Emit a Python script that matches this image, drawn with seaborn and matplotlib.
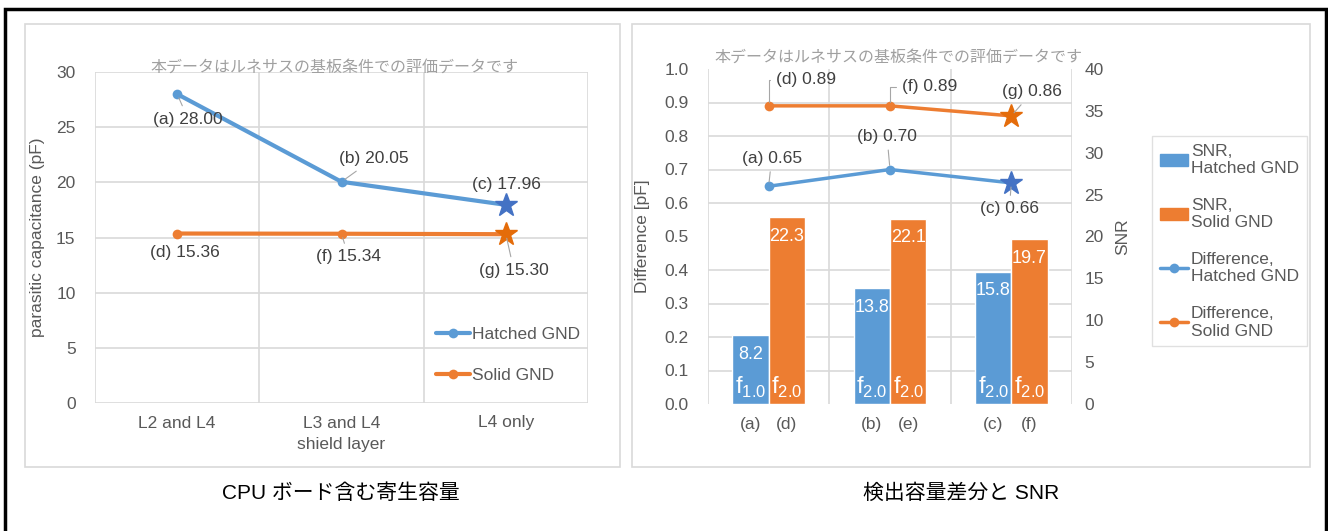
import numpy as np
import pandas as pd
import matplotlib
matplotlib.use("Agg")
import matplotlib.pyplot as plt
import seaborn as sns
from matplotlib.ticker import MultipleLocator, FixedLocator, FormatStrFormatter
from matplotlib.lines import Line2D
from matplotlib.patches import Patch, Rectangle

# ---- parasitic capacitance per shield layer ----
layers = ["L2 and L4", "L3 and L4", "L4 only"]
cap_hatched = [28.00, 20.05, 17.96]
cap_solid = [15.36, 15.34, 15.30]
cap_hatched_tags = ["(a)", "(b)", "(c)"]
cap_solid_tags = ["(d)", "(f)", "(g)"]

# ---- detected capacitance difference and SNR ----
diff_hatched = [0.65, 0.70, 0.66]
diff_solid = [0.89, 0.89, 0.86]
diff_hatched_tags = ["(a)", "(b)", "(c)"]
diff_solid_tags = ["(d)", "(f)", "(g)"]
snr_hatched = [8.2, 13.8, 15.8]
snr_solid = [22.3, 22.1, 19.7]
freq_hatched = ["1.0", "2.0", "2.0"]
freq_solid = ["2.0", "2.0", "2.0"]
bar_tags_hatched = ["(a)", "(b)", "(c)"]
bar_tags_solid = ["(d)", "(e)", "(f)"]

BLUE = "#5B9BD5"
ORANGE = "#ED7D31"
BLUE_STAR = "#4472C4"
ORANGE_STAR = "#E46C0A"
GRID = "#d9d9d9"
TICK = "#595959"
LABEL = "#404040"
MARK = "#a6a6a6"

sns.set_style("white")
plt.rcParams["font.family"] = ["Liberation Sans", "Noto Sans CJK JP", "DejaVu Sans"]
plt.rcParams["mathtext.fontset"] = "custom"
plt.rcParams["mathtext.rm"] = "Liberation Sans"
plt.rcParams["axes.unicode_minus"] = False

W, H = 1328, 531
fig = plt.figure(figsize=(W / 100, H / 100), dpi=100)


def fx(px):
    return px / W


def fy(py):
    return 1 - py / H


# outer frame and panel frames
fig.patches.append(Rectangle((fx(5), fy(545)), fx(1326) - fx(5), fy(9) - fy(545),
                             transform=fig.transFigure, fill=False, lw=2.5, ec="black"))
for x0, x1 in [(25, 620), (632, 1310)]:
    fig.patches.append(Rectangle((fx(x0), fy(467)), fx(x1) - fx(x0), fy(24) - fy(467),
                                 transform=fig.transFigure, fill=False, lw=1.2, ec=GRID))

WM = "本データはルネサスの基板条件での評価データです"


def tag(ax, x, y, text, dx, dy, leader=True, conn=None):
    props = None
    if leader:
        props = dict(arrowstyle="-", color=MARK, lw=0.8, shrinkA=2, shrinkB=3)
        if conn:
            props["connectionstyle"] = conn
    ax.annotate(text, (x, y), xytext=(dx, dy), textcoords="offset pixels",
                ha="center", va="center", fontsize=12.5, color=LABEL,
                arrowprops=props, zorder=6)


# ================= left panel =================
ax1 = fig.add_axes([fx(95), fy(403), fx(588) - fx(95), fy(72) - fy(403)])
xi = np.arange(len(layers))
sns.lineplot(x=xi, y=cap_hatched, ax=ax1, color=BLUE, lw=3, marker="o", markersize=7,
             markeredgewidth=0, zorder=3)
sns.lineplot(x=xi, y=cap_solid, ax=ax1, color=ORANGE, lw=3, marker="o", markersize=7,
             markeredgewidth=0, zorder=3)
ax1.plot(xi[-1], cap_hatched[-1], marker="*", markersize=17, color=BLUE_STAR, zorder=4)
ax1.plot(xi[-1], cap_solid[-1], marker="*", markersize=17, color=ORANGE_STAR, zorder=4)

ax1.set_xlim(-0.5, 2.5)
ax1.set_ylim(0, 30)
ax1.yaxis.set_major_locator(MultipleLocator(5))
ax1.set_xticks(xi, layers)
ax1.xaxis.set_minor_locator(FixedLocator([-0.5, 0.5, 1.5, 2.5]))
ax1.grid(True, axis="y", which="major", color=GRID, lw=1.2)
ax1.grid(True, axis="x", which="minor", color=GRID, lw=1.2)
ax1.set_axisbelow(True)
for s in ax1.spines.values():
    s.set_visible(False)
ax1.tick_params(axis="both", which="both", length=0, labelsize=12.5, labelcolor=TICK)
ax1.tick_params(axis="y", pad=14)
ax1.tick_params(axis="x", pad=9)
ax1.set_ylabel("parasitic capacitance (pF)", fontsize=12.5, color=TICK, labelpad=8)
ax1.set_xlabel("shield layer", fontsize=12.5, color=TICK, labelpad=5)

offs_h = [(11, -25, True), (32, 23, True), (1, 20, False)]
offs_s = [(8, -19, False), (7, -23, True), (8, -36, True)]
for i in range(3):
    dx, dy, ld = offs_h[i]
    tag(ax1, xi[i], cap_hatched[i], f"{cap_hatched_tags[i]} {cap_hatched[i]:.2f}", dx, dy, ld)
    dx, dy, ld = offs_s[i]
    tag(ax1, xi[i], cap_solid[i], f"{cap_solid_tags[i]} {cap_solid[i]:.2f}", dx, dy, ld)

fig.text(fx(334), fy(67), WM, ha="center", va="center", fontsize=11.5, color="#a0a0a0")

leg1 = [Line2D([], [], color=BLUE, lw=3, marker="o", markersize=7, markeredgewidth=0),
        Line2D([], [], color=ORANGE, lw=3, marker="o", markersize=7, markeredgewidth=0)]
fig.legend(leg1, ["Hatched GND", "Solid GND"], loc="upper left",
           bbox_to_anchor=(fx(427), fy(318)), frameon=False, fontsize=12.5,
           labelspacing=1.5, handlelength=2.0, handletextpad=0.1, borderpad=0,
           labelcolor=TICK)

fig.text(fx(341), fy(493), "CPU ボード含む寄生容量", ha="center", va="center",
         fontsize=15, color="black")

# ================= right panel =================
ax2 = fig.add_axes([fx(708), fy(404), fx(1072) - fx(708), fy(69) - fy(404)])
ax2b = ax2.twinx()

bars = pd.DataFrame({
    "group": [0, 1, 2] * 2,
    "snr": snr_hatched + snr_solid,
    "series": ["SNR, Hatched GND"] * 3 + ["SNR, Solid GND"] * 3,
})
sns.barplot(data=bars, x="group", y="snr", hue="series", palette=[BLUE, ORANGE],
            width=0.6, saturation=1, ax=ax2b, legend=False, errorbar=None)
ax2b.set_ylim(0, 40)
ax2b.yaxis.set_major_locator(MultipleLocator(5))
ax2b.yaxis.set_minor_locator(MultipleLocator(4))
ax2b.grid(True, axis="y", which="minor", color=GRID, lw=1.2)
ax2b.grid(False, axis="y", which="major")
ax2b.set_axisbelow(True)

centers, tick_text = [], []
bar_values = [snr_hatched, snr_solid]
bar_freqs = [freq_hatched, freq_solid]
bar_tags = [bar_tags_hatched, bar_tags_solid]
for k, cont in enumerate(ax2b.containers):
    for j, patch in enumerate(cont):
        cx = patch.get_x() + patch.get_width() / 2
        centers.append(cx)
        tick_text.append(bar_tags[k][j])
        v = bar_values[k][j]
        ax2b.annotate(f"{v:.1f}", (cx, v), xytext=(0, -19), textcoords="offset pixels",
                      ha="center", va="center", fontsize=13, color="white")
        ax2b.annotate("f$_{\\mathregular{" + bar_freqs[k][j] + "}}$", (cx, 0),
                      xytext=(0, 4), textcoords="offset pixels",
                      ha="center", va="bottom", fontsize=17, color="white")

xg = np.arange(3)
sns.lineplot(x=xg, y=diff_hatched, ax=ax2, color=BLUE, lw=2.5, marker="o", markersize=7,
             markeredgewidth=0, zorder=3)
sns.lineplot(x=xg, y=diff_solid, ax=ax2, color=ORANGE, lw=2.5, marker="o", markersize=7,
             markeredgewidth=0, zorder=3)
ax2.plot(xg[-1], diff_hatched[-1], marker="*", markersize=17, color=BLUE_STAR, zorder=4)
ax2.plot(xg[-1], diff_solid[-1], marker="*", markersize=17, color=ORANGE_STAR, zorder=4)

ax2.set_zorder(ax2b.get_zorder() + 1)
ax2.patch.set_visible(False)
ax2.set_xlim(-0.5, 2.5)
ax2.set_ylim(0, 1.0)
ax2.yaxis.set_major_locator(MultipleLocator(0.1))
ax2.yaxis.set_major_formatter(FormatStrFormatter("%.1f"))
order = np.argsort(centers)
ax2.set_xticks(np.array(centers)[order], [tick_text[i] for i in order])
ax2.xaxis.set_minor_locator(FixedLocator([-0.5, 0.5, 1.5, 2.5]))
ax2.grid(False)
ax2.grid(True, axis="x", which="minor", color=GRID, lw=1.2)
for a in (ax2, ax2b):
    for s in a.spines.values():
        s.set_visible(False)
    a.tick_params(axis="both", which="both", length=0, labelsize=12.5, labelcolor=TICK)
ax2.tick_params(axis="y", pad=14)
ax2.tick_params(axis="x", pad=9)
ax2b.tick_params(axis="y", pad=9)
ax2.set_xlabel("")
ax2b.set_xlabel("")
ax2.set_ylabel("Difference [pF]", fontsize=12.5, color=TICK, labelpad=10)
ax2b.set_ylabel("SNR", fontsize=12.5, color=TICK, labelpad=8)

offs_dh = [(3, 28), (-3, 33), (-2, -26)]
offs_ds = [(37, 26), (40, 19), (21, 24)]
for i in range(3):
    dx, dy = offs_dh[i]
    tag(ax2, xg[i], diff_hatched[i], f"{diff_hatched_tags[i]} {diff_hatched[i]:.2f}", dx, dy)
    dx, dy = offs_ds[i]
    conn = "angle,angleA=0,angleB=90,rad=0" if i < 2 else None
    tag(ax2, xg[i], diff_solid[i], f"{diff_solid_tags[i]} {diff_solid[i]:.2f}", dx, dy,
        True, conn)

fig.text(fx(898), fy(57), WM, ha="center", va="center", fontsize=11.5, color="#a0a0a0")

leg2 = [Patch(color=BLUE), Patch(color=ORANGE),
        Line2D([], [], color=BLUE, lw=2.5, marker="o", markersize=7, markeredgewidth=0),
        Line2D([], [], color=ORANGE, lw=2.5, marker="o", markersize=7, markeredgewidth=0)]
lg = fig.legend(leg2, ["SNR,\nHatched GND", "SNR,\nSolid GND",
                       "Difference,\nHatched GND", "Difference,\nSolid GND"],
                loc="upper left", bbox_to_anchor=(fx(1152), fy(136)), frameon=True,
                fancybox=False, edgecolor=GRID, fontsize=12.5, labelspacing=1.25,
                handlelength=1.6, handletextpad=0.2, borderpad=0.45, borderaxespad=0,
                labelcolor=TICK)
lg.get_frame().set_linewidth(1.0)

fig.text(fx(961), fy(493), "検出容量差分と SNR", ha="center", va="center",
         fontsize=15, color="black")

fig.savefig("out.png", dpi=100, facecolor="white")
